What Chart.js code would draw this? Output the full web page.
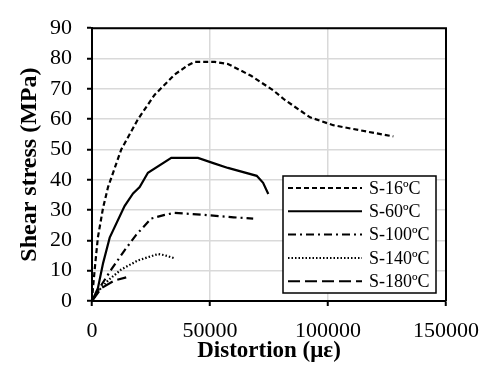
<!DOCTYPE html>
<html>
<head>
<meta charset="utf-8">
<script src="https://cdn.jsdelivr.net/npm/chart.js@4"></script>
<style>
  html, body { margin: 0; padding: 0; background: #fff; }
  #wrap { width: 492px; height: 376px; position: relative; }
</style>
</head>
<body>
<div id="wrap"><canvas id="shearChart"></canvas></div>
<script>
// series values (x = distortion in µε, y = shear stress in MPa)
const seriesNames = ["S-16ºC", "S-60ºC", "S-100ºC", "S-140ºC", "S-180ºC"];

const s16X = [0, 400, 1400, 2500, 4700, 6800, 8200, 12400, 19500, 26500, 35000, 40700, 43500, 52000, 57600, 67400, 76800, 81600, 92400, 102200, 116400, 127700];
const s16Y = [0, 4.2, 12.5, 21, 30.8, 37.6, 40.7, 50, 60, 68, 74.7, 77.8, 78.9, 78.9, 78.2, 74.3, 69.5, 66.4, 60.6, 58, 55.9, 54.3];

const s60X = [0, 2500, 4700, 7500, 13800, 17400, 20200, 23700, 33600, 44900, 51400, 57600, 69800, 72500, 74700];
const s60Y = [0, 4.2, 12.5, 20.9, 31.3, 35.5, 37.6, 42.3, 47.2, 47.2, 45.5, 43.9, 41.3, 39, 35.3];

const s100X = [0, 3900, 8200, 13800, 18800, 25100, 30800, 35000, 47700, 60000, 68300];
const s100Y = [0, 5.2, 10.4, 16.7, 21.9, 27.2, 28.4, 29.1, 28.4, 27.6, 27.2];

const s140X = [0, 2500, 6800, 12400, 19500, 28000, 30800, 35000];
const s140Y = [0, 3.1, 6.8, 10.4, 13.4, 15.5, 15.1, 14.1];

const s180X = [0, 3900, 9600, 14500];
const s180Y = [0, 4.2, 6.8, 7.8];

const xTicks = [0, 50000, 100000, 150000];
const yTicks = [0, 10, 20, 30, 40, 50, 60, 70, 80, 90];

const allX = [s16X, s60X, s100X, s140X, s180X];
const allY = [s16Y, s60Y, s100Y, s140Y, s180Y];
const dashes = [[5, 3], [], [8, 4, 2, 4], [1.5, 2], [12, 5]];

const fontFamily = "'Liberation Serif', 'Times New Roman', serif";

// frame on top / right of the plot area
const framePlugin = {
  id: "frame",
  afterDraw(chart) {
    const { ctx, chartArea: a } = chart;
    ctx.save();
    ctx.strokeStyle = "#000";
    ctx.lineWidth = 2;
    ctx.beginPath();
    ctx.moveTo(a.left, a.top);
    ctx.lineTo(a.right, a.top);
    ctx.lineTo(a.right, a.bottom);
    ctx.stroke();
    ctx.restore();
  }
};

// boxed legend sitting inside the plot, lower right
const boxLegendPlugin = {
  id: "boxLegend",
  afterDraw(chart) {
    const { ctx } = chart;
    const left = 283, top = 176, right = 436, bottom = 293;
    ctx.save();
    ctx.fillStyle = "#fff";
    ctx.fillRect(left, top, right - left, bottom - top);
    ctx.strokeStyle = "#000";
    ctx.lineWidth = 1.5;
    ctx.strokeRect(left, top, right - left, bottom - top);
    ctx.font = "18px " + fontFamily;
    ctx.textBaseline = "middle";
    ctx.fillStyle = "#000";
    chart.data.datasets.forEach((ds, i) => {
      const y = 188 + i * 23.3;
      ctx.beginPath();
      ctx.setLineDash(ds.borderDash || []);
      ctx.lineWidth = 2;
      ctx.moveTo(288, y);
      ctx.lineTo(362, y);
      ctx.stroke();
      ctx.setLineDash([]);
      ctx.fillText(ds.label, 369, y + 1);
    });
    ctx.restore();
  }
};

new Chart(document.getElementById("shearChart").getContext("2d"), {
  type: "line",
  data: {
    datasets: seriesNames.map((name, i) => ({
      label: name,
      data: allX[i].map((x, j) => ({ x: x, y: allY[i][j] })),
      borderColor: "#000",
      borderWidth: 2.2,
      borderDash: dashes[i],
      pointRadius: 0,
      tension: 0,
      fill: false
    }))
  },
  options: {
    responsive: true,
    maintainAspectRatio: false,
    animation: false,
    layout: { padding: { top: 13, right: 46, left: 0, bottom: 0 } },
    plugins: {
      legend: { display: false },
      tooltip: { enabled: false }
    },
    scales: {
      x: {
        type: "linear",
        min: 0,
        max: 150000,
        afterBuildTicks: s => { s.ticks = xTicks.map(v => ({ value: v })); },
        afterFit: s => { s.height = 75; },
        grid: { color: "#d9d9d9", lineWidth: 1.5, tickColor: "#000", tickWidth: 2, tickLength: 5 },
        border: { color: "#000", width: 2 },
        ticks: { color: "#000", padding: 12, maxRotation: 0, callback: v => String(v), font: { family: fontFamily, size: 22 } },
        title: {
          display: true,
          text: "Distortion (με)",
          color: "#000",
          padding: { top: 0, bottom: 11 },
          font: { family: fontFamily, size: 23, weight: "bold" }
        }
      },
      y: {
        type: "linear",
        min: 0,
        max: 90,
        afterBuildTicks: s => { s.ticks = yTicks.map(v => ({ value: v })); },
        afterFit: s => { s.width = 92; },
        grid: { color: "#d9d9d9", lineWidth: 1.5, tickColor: "#000", tickWidth: 2, tickLength: 5 },
        border: { color: "#000", width: 2 },
        ticks: { color: "#000", padding: 15, callback: v => String(v), font: { family: fontFamily, size: 22 } },
        title: {
          display: true,
          text: "Shear stress (MPa)",
          color: "#000",
          padding: { top: 15, bottom: 0 },
          font: { family: fontFamily, size: 24, weight: "bold" }
        }
      }
    }
  },
  plugins: [framePlugin, boxLegendPlugin]
});
</script>
</body>
</html>
